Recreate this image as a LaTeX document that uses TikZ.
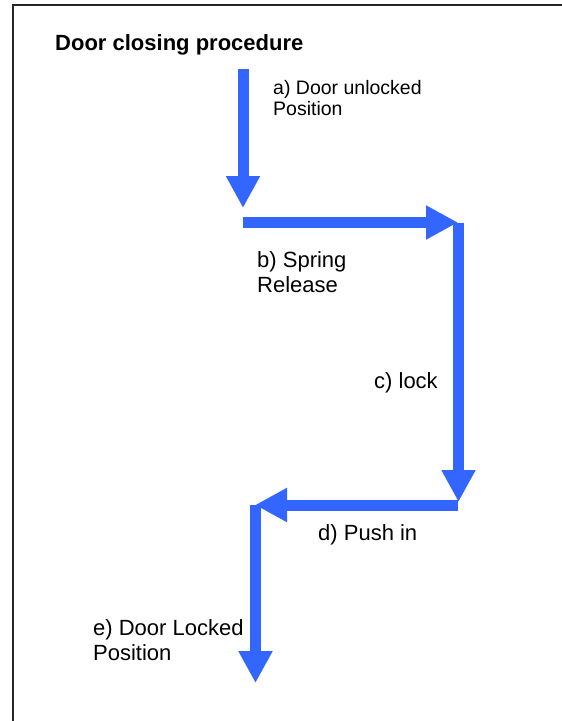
\documentclass[tikz,border=0pt]{standalone}
\usepackage{fontspec}
\setmainfont{Liberation Sans}
\usetikzlibrary{arrows.meta, positioning}
\definecolor{flowblue}{HTML}{3366FF}

\begin{document}
\begin{tikzpicture}
	[x=1pt, y=-1pt,
	 flow/.style={draw=flowblue, line width=11pt, -{Triangle[width=32pt,length=32pt]}},
	 caption/.style={anchor=base west, align=left, inner sep=0pt, font=\fontsize{22}{25}\selectfont}]
   \useasboundingbox (0,0) rectangle (562,721);
   \draw[line width=2pt, black!85] (13,721) -- (13,5) -- (562,5);
   \node[caption, font=\bfseries\fontsize{22}{25}\selectfont] (title) at (55,50) {Door closing procedure};
   % corners of the path
   \coordinate (a_top) at (243,69);
   \coordinate (a_end) at (243,208);
   \coordinate (b_start) at (243,222.5);
   \coordinate (b_end) at (458,222.5);
   \coordinate (c_top) at (458.5,223);
   \coordinate (c_end) at (458.5,502);
   \coordinate (d_start) at (458,505);
   \coordinate (d_end) at (255,505);
   \coordinate (e_top) at (255.5,505);
   \coordinate (e_end) at (255.5,683);
   \draw[flow] (a_top) -- (a_end);
   \draw[flow] (b_start) -- (b_end);
   \draw[flow] (c_top) -- (c_end);
   \draw[flow] (d_start) -- (d_end);
   \draw[flow] (e_top) -- (e_end);
   % labels (base of two-line labels is their last line)
   \node[caption, font=\fontsize{19.5}{20.5}\selectfont] (a_text) at (273,115) {a) Door unlocked\\Position};
   \node[caption] (b_text) at (257,292) {b) Spring\\Release};
   \node[caption] (c_text) at (374,388) {c) lock};
   \node[caption] (d_text) at (318,540) {d) Push in};
   \node[caption] (e_text) at (93,660) {e) Door Locked\\Position};
\end{tikzpicture}
\end{document}
